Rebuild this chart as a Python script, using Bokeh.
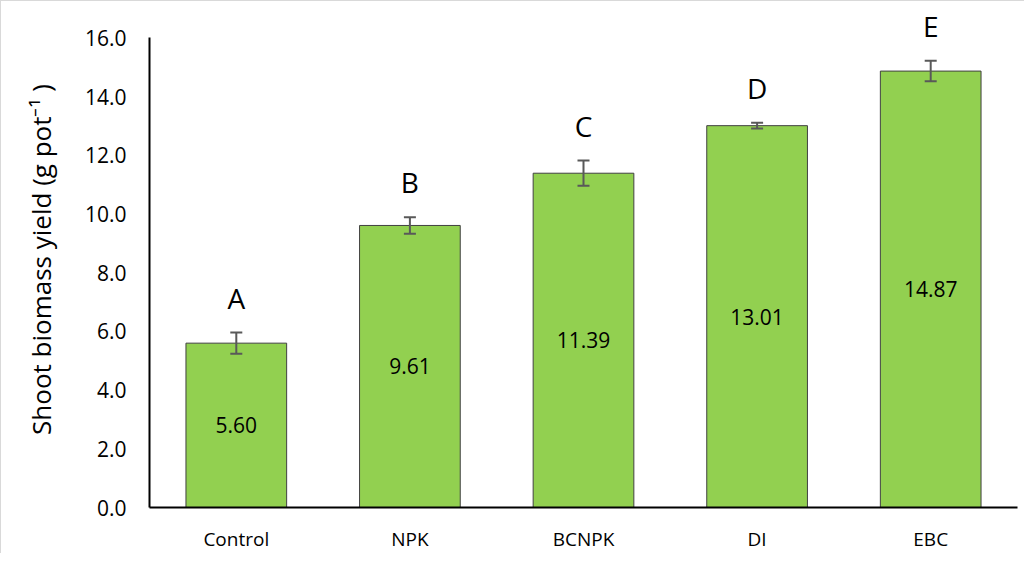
from bokeh.plotting import figure
from bokeh.models import (ColumnDataSource, Whisker, LabelSet, Range1d,
                          SingleIntervalTicker, PrintfTickFormatter)
from bokeh.embed import file_html
from bokeh.resources import INLINE
from bokeh.core.properties import value

# ---- data ----
treatments = ["Control", "NPK", "BCNPK", "DI", "EBC"]
yield_means = [5.60, 9.61, 11.39, 13.01, 14.87]
yield_errors = [0.36, 0.28, 0.43, 0.10, 0.35]
group_letters = ["A", "B", "C", "D", "E"]

FONT = "Open Sans"

src = ColumnDataSource(dict(
    x=treatments,
    top=yield_means,
    upper=[m + e for m, e in zip(yield_means, yield_errors)],
    lower=[m - e for m, e in zip(yield_means, yield_errors)],
    mid=[m / 2 for m in yield_means],
    label=[f"{m:.2f}" for m in yield_means],
    letter=group_letters,
))

# headroom above 16 so the significance letters are not clipped; axis itself stops at 16
p = figure(x_range=treatments, y_range=Range1d(0, 16.9),
           width=1024, height=553, output_backend="svg", toolbar_location=None,
           min_border_left=148, min_border_right=8, min_border_top=10, min_border_bottom=47)
p.styles = {"border-left": "1px solid #d9d9d9", "border-top": "1px solid #d9d9d9"}

p.vbar(x="x", top="top", width=0.58, source=src,
       fill_color="#92D050", line_color="#404040", line_width=1)

w = Whisker(source=src, base="x", upper="upper", lower="lower",
            line_color="#595959", line_width=2, level="annotation")
for h in (w.upper_head, w.lower_head):
    h.line_color = "#595959"
    h.line_width = 2
    h.size = 12
p.add_layout(w)

p.text(x="x", y="mid", text="label", source=src, text_align="center",
       text_baseline="middle", text_font=value(FONT), text_font_size="21px",
       text_color="#000000")

letters = LabelSet(x="x", y="upper", text="letter", source=src, text_align="center",
                   text_baseline="middle", y_offset=35, text_font=value(FONT),
                   text_font_size="28px", text_color="#000000")
p.add_layout(letters)

p.xgrid.visible = False
p.ygrid.visible = False
p.outline_line_color = None
p.background_fill_color = "white"
p.border_fill_color = "white"

p.yaxis.ticker = SingleIntervalTicker(interval=2)
p.yaxis.formatter = PrintfTickFormatter(format="%.1f")
p.yaxis.bounds = (0, 16)

for ax in (p.xaxis[0], p.yaxis[0]):
    ax.axis_line_color = "#000000"
    ax.axis_line_width = 2
    ax.major_tick_line_color = None
    ax.minor_tick_line_color = None
    ax.major_label_text_font = FONT
    ax.major_label_text_color = "#000000"

p.yaxis.major_label_text_font_size = "21px"
p.yaxis.major_label_standoff = 17
p.xaxis.major_label_text_font_size = "19px"
p.xaxis.major_label_standoff = 12

p.yaxis.axis_label = "Shoot biomass yield (g pot\u207b\u00b9 )"
p.yaxis.axis_label_text_font = FONT
p.yaxis.axis_label_text_font_style = "normal"
p.yaxis.axis_label_text_font_size = "26px"
p.yaxis.axis_label_text_color = "#000000"
p.yaxis.axis_label_standoff = 23

open("out.html", "w").write(file_html(p, INLINE))
